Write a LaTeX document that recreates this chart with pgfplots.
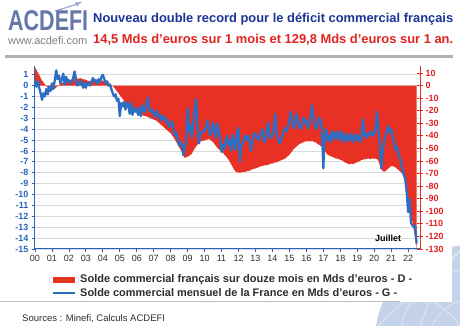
\documentclass[border=0pt]{standalone}
\usepackage{fontspec}
\setmainfont{Liberation Sans}
\usepackage{graphicx}
\usepackage{pgfplots}
\pgfplotsset{compat=1.18}
\usepackage{pgfplotstable}
\definecolor{cblue}{RGB}{45,110,195}
\definecolor{cred}{RGB}{232,48,36}
\definecolor{tblue}{RGB}{28,52,150}
\definecolor{tred}{RGB}{225,35,30}
\definecolor{gridc}{RGB}{218,218,218}
\definecolor{labblue}{RGB}{40,100,190}
\definecolor{txtgray}{RGB}{45,45,45}
\definecolor{logoc}{RGB}{100,120,170}
\definecolor{logod}{RGB}{55,80,150}
\definecolor{globec}{RGB}{196,210,234}

% monthly trade balance, bn euros (left axis), Jan 2000 - Jul 2022
\pgfplotstableread[row sep=\\]{v\\
0.4\\-0.1\\0.4\\-0.2\\-0.7\\-1.3\\-0.7\\-1.0\\-0.3\\-0.8\\-0.1\\-0.5\\
0.2\\-0.3\\0.5\\1.4\\0.6\\0.9\\0.2\\0.6\\1.1\\0.1\\0.8\\0.4\\
0.5\\0.2\\0.4\\0.7\\1.3\\0.6\\0.0\\0.3\\0.1\\0.4\\-0.2\\0.2\\
-0.2\\0.3\\0.1\\0.0\\0.3\\0.7\\0.4\\0.5\\0.2\\0.6\\0.3\\0.8\\
1.0\\0.6\\0.2\\0.4\\0.0\\0.1\\-0.3\\-0.7\\-1.0\\-0.8\\-1.4\\-1.2\\
-2.8\\-1.6\\-1.9\\-1.5\\-2.2\\-1.6\\-1.8\\-2.6\\-1.5\\-2.7\\-2.0\\-2.4\\
-2.2\\-2.7\\-2.0\\-2.8\\-1.8\\-2.3\\-2.4\\-1.6\\-1.1\\-2.2\\-2.4\\-2.2\\
-2.6\\-2.9\\-2.3\\-2.6\\-2.9\\-3.2\\-2.7\\-3.1\\-2.9\\-3.4\\-3.2\\-3.8\\
-3.6\\-3.3\\-4.0\\-4.6\\-4.3\\-4.9\\-5.5\\-5.2\\-5.4\\-6.4\\-5.6\\-5.0\\
-2.1\\-4.2\\-3.6\\-4.8\\-3.5\\-2.2\\-1.2\\-3.8\\-5.3\\-4.5\\-4.3\\-4.1\\
-4.2\\-3.8\\-3.2\\-4.0\\-4.6\\-4.2\\-3.4\\-4.0\\-4.8\\-3.5\\-4.3\\-4.8\\
-6.1\\-5.4\\-5.8\\-5.0\\-4.6\\-5.5\\-5.0\\-6.0\\-4.5\\-5.2\\-5.9\\-4.4\\
-3.9\\-7.0\\-5.5\\-5.3\\-4.8\\-4.6\\-5.0\\-4.6\\-5.3\\-6.0\\-5.0\\-4.4\\
-4.4\\-4.8\\-5.0\\-4.6\\-4.3\\-4.0\\-5.2\\-5.0\\-4.3\\-3.4\\-4.6\\-4.8\\
-4.6\\-3.9\\-2.6\\-4.4\\-5.0\\-5.3\\-5.0\\-4.6\\-4.2\\-3.9\\-4.2\\-3.8\\
-3.2\\-2.4\\-3.2\\-3.9\\-3.6\\-2.6\\-3.2\\-3.8\\-4.0\\-3.6\\-2.9\\-3.4\\
-3.2\\-3.9\\-3.5\\-2.9\\-1.8\\-3.0\\-3.6\\-4.0\\-3.6\\-2.9\\-3.2\\-3.9\\
-7.6\\-4.5\\-4.0\\-5.0\\-4.6\\-5.2\\-4.2\\-4.8\\-4.3\\-5.0\\-4.2\\-4.6\\
-5.0\\-4.2\\-4.8\\-5.2\\-4.4\\-5.0\\-4.6\\-5.0\\-4.4\\-5.2\\-4.8\\-4.5\\
-5.0\\-4.6\\-5.2\\-4.8\\-3.1\\-4.6\\-4.4\\-4.8\\-4.4\\-4.5\\-4.2\\-4.6\\
-4.4\\-3.9\\-2.4\\-4.0\\-5.5\\-7.6\\-6.0\\-5.2\\-4.6\\-4.2\\-3.7\\-4.3\\
-4.0\\-4.6\\-5.2\\-5.9\\-5.6\\-6.2\\-6.6\\-7.0\\-7.7\\-8.2\\-8.6\\-9.8\\
-11.6\\-10.4\\-12.6\\-12.8\\-13.0\\-12.9\\-14.5\\
}\bluedata

% 12-month rolling trade balance, bn euros (right axis)
\pgfplotstableread[row sep=\\]{v\\
14.5\\12.5\\10.5\\8.5\\6.0\\4.0\\2.5\\1.0\\-0.5\\-1.5\\-2.5\\-3.0\\
-3.5\\-3.0\\-2.5\\-1.5\\-0.5\\0.5\\1.5\\2.0\\2.5\\3.0\\3.5\\4.0\\
4.0\\4.5\\4.5\\5.0\\5.5\\5.0\\5.5\\5.5\\6.0\\5.5\\5.0\\5.0\\
4.5\\4.0\\3.5\\4.0\\3.5\\3.0\\3.5\\3.5\\4.0\\4.0\\4.5\\4.0\\
4.0\\3.5\\3.0\\2.5\\2.0\\1.5\\0.5\\-0.5\\-1.5\\-3.0\\-4.5\\-6.0\\
-7.5\\-9.0\\-10.5\\-12.0\\-13.5\\-15.0\\-16.0\\-17.0\\-18.0\\-19.0\\-20.0\\-21.0\\
-21.5\\-22.0\\-22.5\\-23.0\\-23.5\\-24.0\\-24.0\\-24.5\\-25.0\\-25.5\\-26.0\\-26.5\\
-27.0\\-27.5\\-28.0\\-29.0\\-30.0\\-31.0\\-32.0\\-33.0\\-34.0\\-35.0\\-36.0\\-37.0\\
-38.0\\-39.5\\-41.0\\-43.0\\-45.0\\-47.0\\-49.0\\-51.0\\-53.0\\-55.5\\-57.5\\-57.0\\
-56.5\\-56.0\\-55.0\\-54.0\\-52.0\\-50.0\\-48.5\\-47.0\\-45.5\\-44.5\\-44.0\\-44.0\\
-43.5\\-43.0\\-43.0\\-42.5\\-43.0\\-44.0\\-45.0\\-46.5\\-48.0\\-49.5\\-50.5\\-51.5\\
-52.0\\-53.5\\-55.0\\-56.0\\-57.5\\-59.0\\-61.0\\-63.0\\-65.0\\-67.0\\-68.5\\-69.0\\
-69.0\\-69.5\\-69.0\\-68.5\\-69.0\\-68.5\\-68.0\\-68.0\\-67.5\\-67.0\\-66.5\\-66.0\\
-66.0\\-65.5\\-65.0\\-64.5\\-64.0\\-64.0\\-63.5\\-63.5\\-63.0\\-63.0\\-62.5\\-62.0\\
-62.0\\-61.5\\-61.0\\-61.0\\-60.5\\-60.0\\-59.5\\-59.0\\-58.5\\-58.0\\-57.0\\-56.0\\
-55.0\\-53.5\\-52.0\\-50.5\\-49.5\\-48.5\\-47.5\\-46.5\\-46.0\\-45.5\\-45.0\\-44.5\\
-44.0\\-44.5\\-44.0\\-44.5\\-44.0\\-44.5\\-45.0\\-45.5\\-46.5\\-47.0\\-48.0\\-48.5\\
-50.0\\-52.0\\-53.5\\-55.0\\-55.5\\-56.0\\-56.5\\-57.0\\-57.5\\-58.0\\-58.0\\-58.5\\
-59.0\\-59.5\\-60.0\\-61.0\\-61.5\\-62.0\\-62.5\\-62.5\\-62.0\\-62.5\\-62.0\\-61.5\\
-61.0\\-60.5\\-60.0\\-59.0\\-59.0\\-58.5\\-58.5\\-58.0\\-58.0\\-58.5\\-58.0\\-58.0\\
-58.0\\-58.0\\-58.5\\-60.0\\-63.0\\-66.0\\-68.0\\-68.5\\-68.0\\-67.0\\-66.0\\-65.0\\
-64.0\\-64.0\\-64.5\\-65.0\\-66.0\\-67.0\\-68.0\\-69.0\\-70.5\\-73.0\\-77.0\\-84.5\\
-90.0\\-96.0\\-102.0\\-108.0\\-115.0\\-122.0\\-129.8\\
}\reddata

\pgfplotsset{
  base/.style={scale only axis, width=385pt, height=183pt,
    at={(35pt,77pt)}, anchor=south west, xmin=0, xmax=22.7,
    /pgf/number format/assume math mode=true},
}

\begin{document}
\begin{tikzpicture}[x=1pt,y=1pt]
\path[use as bounding box] (0,0) rectangle (460,326);
% globe decoration
\begin{scope}
\clip (0,0) rectangle (460,326);
\fill[globec] (470,-14) circle (95);
\draw[white!85!gray, line width=0.6pt] (470,-14) circle (70);
\draw[white!85!gray, line width=0.6pt] (470,-14) circle (40);
\draw[white!85!gray, line width=0.6pt] (378,0) .. controls (420,40) and (450,70) .. (470,81);
\draw[white!85!gray, line width=0.6pt] (400,40) .. controls (430,30) and (450,15) .. (460,0);
\draw[white!85!gray, line width=0.6pt] (420,0) .. controls (430,30) and (445,60) .. (460,75);
\end{scope}
% white panel over the globe
\fill[white] (0,24) rectangle (452,326);

% grid
\begin{axis}[base, ymin=-15, ymax=1.8, ytick={-15,...,1}, yticklabels={},
  xtick=\empty, ymajorgrids, grid style={gridc, line width=0.9pt},
  axis line style={draw=none}, major tick length=0pt]
\end{axis}

% red area, right axis
\begin{axis}[base, ymin=-130, ymax=15.6, axis y line*=right, axis x line=none,
  ytick={-130,-120,...,10},
  tick align=center, major tick length=6pt,
  every tick/.style={cred, line width=0.8pt},
  axis line style={cred, line width=1pt},
  yticklabel style={text=tred, font=\bfseries\fontsize{9}{10}\selectfont, xshift=-1pt}]
\addplot[fill=cred, draw=none] table[x expr=\coordindex/12, y=v] {\reddata} \closedcycle;
\end{axis}

% blue line, left axis
\begin{axis}[base, ymin=-15, ymax=1.8, axis y line*=left, axis x line*=bottom,
  ytick={-15,...,1},
  xtick={0,...,22},
  xticklabels={00,01,02,03,04,05,06,07,08,09,10,11,12,13,14,15,16,17,18,19,20,21,22},
  tick align=outside, major tick length=3pt,
  every tick/.style={labblue, line width=0.8pt},
  axis line style={labblue, line width=1pt},
  yticklabel style={text=labblue, font=\bfseries\fontsize{9}{10}\selectfont},
  xticklabel style={text=txtgray, font=\fontsize{9}{10}\selectfont}]
\addplot[cblue, line width=2.3pt, line join=round] table[x expr=\coordindex/12, y=v] {\bluedata};
\end{axis}

% Juillet
\node[font=\bfseries\fontsize{9}{10}\selectfont, text=black] at (388,88) {Juillet};

% header
\draw[logod!50, line width=1.2pt, -latex] (55,315) .. controls (65,318) and (72,320) .. (82,324);
\node[anchor=west, inner sep=0, text=logoc] at (8,305) {\resizebox{80pt}{20pt}{\bfseries ACDEFI}};
\node[anchor=west, inner sep=0, text=gray] at (8,285) {\resizebox{79pt}{!}{\fontsize{7}{8}\selectfont www.acdefi.com}};
\node[anchor=west, inner sep=0, text=tblue] at (93,307) {\resizebox{360pt}{!}{\bfseries\fontsize{12}{14}\selectfont Nouveau double record pour le déficit commercial français}};
\node[anchor=west, inner sep=0, text=tred] at (93,286) {\resizebox{360pt}{!}{\bfseries\fontsize{12}{14}\selectfont 14,5 Mds d’euros sur 1 mois et 129,8 Mds d’euros sur 1 an.}};
\fill[gray!60] (5,268) rectangle (453,271);

% legend
\fill[cred] (53,43) rectangle (75,49);
\node[anchor=west, inner sep=0, text=txtgray] at (80,46) {\resizebox{332pt}{!}{\bfseries\fontsize{9}{10}\selectfont Solde commercial français sur douze mois en Mds d'euros - D -}};
\draw[cblue, line width=2.5pt] (53,33) -- (75,33);
\node[anchor=west, inner sep=0, text=txtgray] at (80,33) {\resizebox{317pt}{!}{\bfseries\fontsize{9}{10}\selectfont Solde commercial mensuel de la France en Mds d'euros - G -}};

% footer
\draw[gray!50, line width=1pt] (0,24) -- (400,24);
\node[anchor=west, inner sep=0, text=txtgray] at (22,7) {\fontsize{9.5}{11}\selectfont Sources : Minefi, Calculs ACDEFI};
\end{tikzpicture}
\end{document}
